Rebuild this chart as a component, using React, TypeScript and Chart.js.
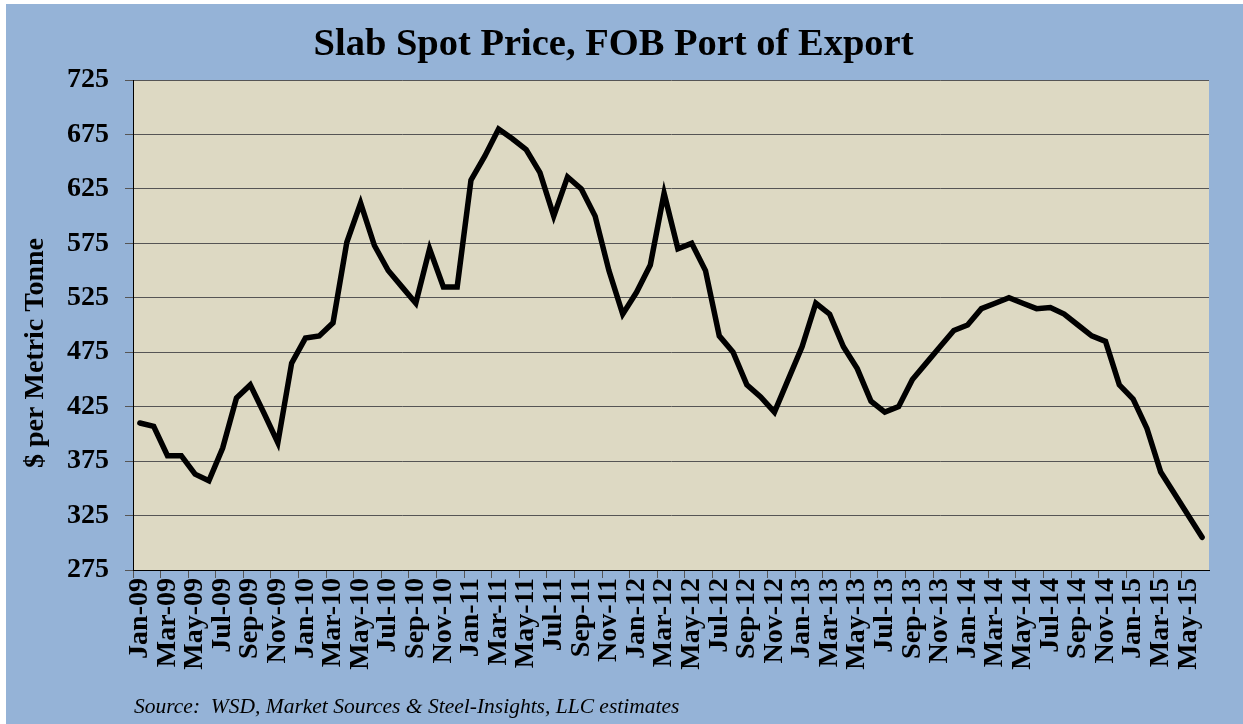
import React, { useEffect, useRef } from 'react';
import { Chart, registerables } from 'chart.js';

Chart.register(...registerables);

const MONTH_LABELS = [
  'Jan-09', 'Feb-09', 'Mar-09', 'Apr-09', 'May-09', 'Jun-09', 'Jul-09', 'Aug-09', 'Sep-09', 'Oct-09', 'Nov-09', 'Dec-09',
  'Jan-10', 'Feb-10', 'Mar-10', 'Apr-10', 'May-10', 'Jun-10', 'Jul-10', 'Aug-10', 'Sep-10', 'Oct-10', 'Nov-10', 'Dec-10',
  'Jan-11', 'Feb-11', 'Mar-11', 'Apr-11', 'May-11', 'Jun-11', 'Jul-11', 'Aug-11', 'Sep-11', 'Oct-11', 'Nov-11', 'Dec-11',
  'Jan-12', 'Feb-12', 'Mar-12', 'Apr-12', 'May-12', 'Jun-12', 'Jul-12', 'Aug-12', 'Sep-12', 'Oct-12', 'Nov-12', 'Dec-12',
  'Jan-13', 'Feb-13', 'Mar-13', 'Apr-13', 'May-13', 'Jun-13', 'Jul-13', 'Aug-13', 'Sep-13', 'Oct-13', 'Nov-13', 'Dec-13',
  'Jan-14', 'Feb-14', 'Mar-14', 'Apr-14', 'May-14', 'Jun-14', 'Jul-14', 'Aug-14', 'Sep-14', 'Oct-14', 'Nov-14', 'Dec-14',
  'Jan-15', 'Feb-15', 'Mar-15', 'Apr-15', 'May-15', 'Jun-15',
];

const SLAB_PRICE_2009 = [410, 407, 380, 380, 363, 357, 387, 433, 445, 419, 392, 465];
const SLAB_PRICE_2010 = [488, 490, 502, 576, 612, 573, 550, 535, 520, 570, 535, 535];
const SLAB_PRICE_2011 = [633, 655, 680, 671, 661, 640, 600, 636, 625, 600, 550, 510];
const SLAB_PRICE_2012 = [530, 555, 621, 570, 575, 550, 490, 475, 445, 434, 420, 450];
const SLAB_PRICE_2013 = [480, 520, 510, 480, 460, 430, 420, 425, 450, 465, 480, 495];
const SLAB_PRICE_2014 = [500, 515, 520, 525, 520, 515, 516, 510, 500, 490, 485, 445];
const SLAB_PRICE_2015 = [432, 405, 365, 345, 325, 305];

const SLAB_PRICE = [
  ...SLAB_PRICE_2009, ...SLAB_PRICE_2010, ...SLAB_PRICE_2011, ...SLAB_PRICE_2012,
  ...SLAB_PRICE_2013, ...SLAB_PRICE_2014, ...SLAB_PRICE_2015,
];

const Y_MIN = 275;
const Y_MAX = 725;
const Y_STEP = 50;

const TITLE = 'Slab Spot Price, FOB Port of Export';
const Y_TITLE = '$ per Metric Tonne';
const SOURCE = 'Source:  WSD, Market Sources & Steel-Insights, LLC estimates';

const FONT = '"Liberation Serif", "Times New Roman", serif';
const W = 1243;
const H = 724;

const backgroundPlugin = {
  id: 'slabBackground',
  beforeDraw(chart: any) {
    const { ctx, width, height, chartArea } = chart;
    ctx.save();
    ctx.fillStyle = '#ffffff';
    ctx.fillRect(0, 0, width, height);
    ctx.fillStyle = '#95B3D7';
    ctx.fillRect(6, 4, width - 6, height - 4);
    ctx.fillStyle = '#DDD9C3';
    ctx.fillRect(chartArea.left, chartArea.top, chartArea.right - chartArea.left, chartArea.bottom - chartArea.top);
    ctx.restore();
  },
};

const textPlugin = {
  id: 'slabTexts',
  afterDraw(chart: any) {
    const { ctx } = chart;
    ctx.save();
    ctx.fillStyle = '#000';
    ctx.font = `bold 28px ${FONT}`;
    ctx.textAlign = 'center';
    ctx.textBaseline = 'middle';
    ctx.translate(36, 353);
    ctx.rotate(-Math.PI / 2);
    ctx.fillText(Y_TITLE, 0, 0);
    ctx.restore();

    ctx.save();
    ctx.fillStyle = '#000';
    ctx.font = `italic 21.5px ${FONT}`;
    ctx.textAlign = 'left';
    ctx.textBaseline = 'alphabetic';
    ctx.fillText(SOURCE, 134, 713);
    ctx.restore();
  },
};

export default function App() {
  const canvasRef = useRef<HTMLCanvasElement | null>(null);

  useEffect(() => {
    const canvas = canvasRef.current;
    if (!canvas) return;
    const chart = new Chart(canvas, {
      type: 'line',
      data: {
        labels: MONTH_LABELS,
        datasets: [
          {
            label: 'Slab Spot Price',
            data: SLAB_PRICE,
            borderColor: '#000000',
            backgroundColor: '#000000',
            borderWidth: 5.5,
            pointRadius: 0,
            pointHoverRadius: 0,
            tension: 0,
            borderJoinStyle: 'miter',
            borderCapStyle: 'round',
            fill: false,
          },
        ],
      },
      options: {
        responsive: false,
        animation: false,
        devicePixelRatio: 1,
        layout: { padding: { left: 18, right: 34, top: 0, bottom: 0 } },
        plugins: {
          legend: { display: false },
          tooltip: { enabled: false },
          title: {
            display: true,
            text: TITLE,
            color: '#000',
            font: { family: FONT, size: 38.5, weight: 'bold', lineHeight: 1.2 },
            padding: { top: 21.5, bottom: 12.3 },
          },
        },
        scales: {
          x: {
            type: 'category',
            offset: true,
            afterFit(scale: any) {
              scale.height = 154;
            },
            grid: {
              offset: true,
              drawOnChartArea: false,
              drawTicks: true,
              tickLength: 8,
              tickColor: (ctx: any) => (ctx.index % 2 === 0 ? '#555555' : 'rgba(0,0,0,0)'),
            },
            border: { display: true, color: '#000000', width: 1 },
            ticks: {
              autoSkip: false,
              maxRotation: 90,
              minRotation: 90,
              padding: 0,
              color: '#000',
              font: { family: FONT, size: 28, weight: 'bold' },
              callback: (_v: any, idx: number) => (idx % 2 === 0 ? MONTH_LABELS[idx] : ''),
            },
          },
          y: {
            min: Y_MIN,
            max: Y_MAX,
            afterFit(scale: any) {
              scale.width = 115;
            },
            grid: {
              color: '#555555',
              lineWidth: 1,
              tickLength: 8,
              tickColor: '#555555',
            },
            border: { display: true, color: '#000000', width: 1 },
            ticks: {
              stepSize: Y_STEP,
              padding: 16,
              color: '#000',
              font: { family: FONT, size: 28, weight: 'bold' },
            },
          },
        },
      },
      plugins: [backgroundPlugin, textPlugin],
    });
    return () => chart.destroy();
  }, []);

  return (
    <div style={{ position: 'fixed', left: 0, top: 0, width: W, height: H, background: '#fff' }}>
      <canvas ref={canvasRef} width={W} height={H} style={{ width: W, height: H, display: 'block' }} />
    </div>
  );
}
